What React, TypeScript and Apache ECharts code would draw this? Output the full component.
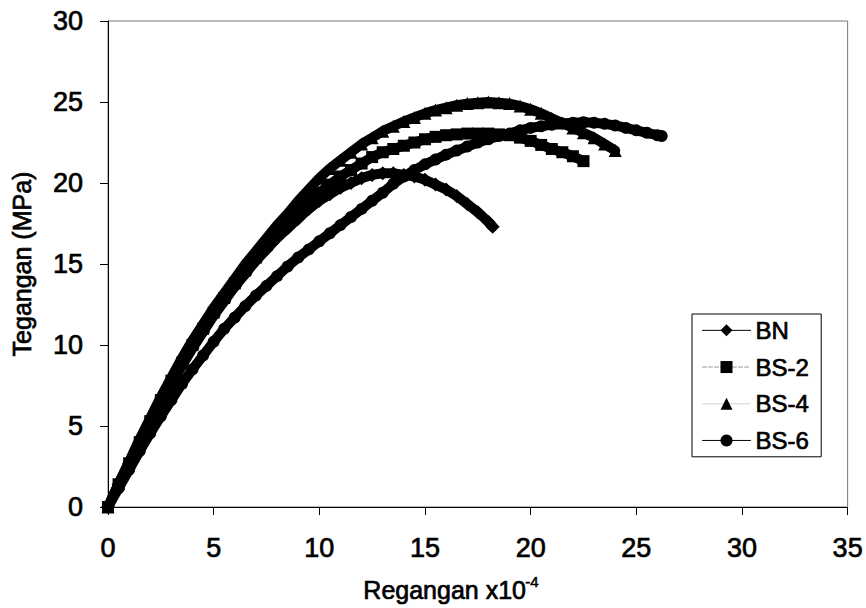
import React, { useEffect, useRef } from "react";
import * as echarts from "echarts";

// Strain (x10^-4) and stress (MPa) for each specimen
const bnStrain = [0, 0.5, 1, 1.5, 2, 2.5, 3, 3.5, 4, 4.5, 5, 5.5, 6, 6.5, 7, 7.5, 8, 8.5, 9, 9.5, 10, 10.5, 11, 11.5, 12, 12.5, 13, 13.5, 14, 14.5, 15, 15.5, 16, 16.5, 17, 17.5, 18, 18.2];
const bnStress = [0, 1.4, 2.7, 4.0, 5.2, 6.4, 7.6, 8.7, 9.8, 10.8, 11.8, 12.7, 13.6, 14.4, 15.2, 15.9, 16.6, 17.2, 17.8, 18.4, 18.9, 19.3, 19.7, 20.0, 20.3, 20.5, 20.6, 20.6, 20.5, 20.4, 20.2, 19.9, 19.6, 19.2, 18.7, 18.2, 17.6, 17.3];

const bs2Strain = [0, 0.5, 1, 1.5, 2, 2.5, 3, 3.5, 4, 4.5, 5, 5.5, 6, 6.5, 7, 7.5, 8, 8.5, 9, 9.5, 10, 10.5, 11, 11.5, 12, 12.5, 13, 13.5, 14, 14.5, 15, 15.5, 16, 16.5, 17, 17.5, 18, 18.5, 19, 19.5, 20, 20.5, 21, 21.5, 22, 22.5];
const bs2Stress = [0, 1.4, 2.7, 4.0, 5.3, 6.6, 7.8, 8.9, 10.0, 11.0, 12.0, 12.9, 13.8, 14.6, 15.4, 16.2, 16.9, 17.6, 18.2, 18.8, 19.4, 19.9, 20.4, 20.8, 21.2, 21.6, 21.9, 22.1, 22.3, 22.5, 22.7, 22.85, 22.95, 23.0, 23.05, 23.05, 23.05, 23.0, 22.95, 22.8, 22.6, 22.35, 22.1, 21.9, 21.65, 21.35];

const bs4Strain = [0, 0.5, 1, 1.5, 2, 2.5, 3, 3.5, 4, 4.5, 5, 5.5, 6, 6.5, 7, 7.5, 8, 8.5, 9, 9.5, 10, 10.5, 11, 11.5, 12, 12.5, 13, 13.5, 14, 14.5, 15, 15.5, 16, 16.5, 17, 17.5, 18, 18.5, 19, 19.5, 20, 20.5, 21, 21.5, 22, 22.5, 23, 23.5, 24];
const bs4Stress = [0, 1.45, 2.8, 4.2, 5.5, 6.8, 8.0, 9.2, 10.3, 11.3, 12.3, 13.2, 14.1, 15.0, 15.8, 16.6, 17.4, 18.1, 18.9, 19.6, 20.3, 20.9, 21.4, 21.9, 22.4, 22.8, 23.2, 23.5, 23.8, 24.05, 24.3, 24.5, 24.65, 24.8, 24.9, 24.95, 25.0, 24.95, 24.9, 24.75, 24.55, 24.3, 24.0, 23.7, 23.4, 23.1, 22.8, 22.4, 22.0];

const bs6Strain = [0, 0.5, 1, 1.5, 2, 2.5, 3, 3.5, 4, 4.5, 5, 5.5, 6, 6.5, 7, 7.5, 8, 8.5, 9, 9.5, 10, 10.5, 11, 11.5, 12, 12.5, 13, 13.5, 14, 14.5, 15, 15.5, 16, 16.5, 17, 17.5, 18, 18.5, 19, 19.5, 20, 20.5, 21, 21.5, 22, 22.5, 23, 23.5, 24, 24.5, 25, 25.5, 26, 26.2];
const bs6Stress = [0, 1.15, 2.3, 3.45, 4.55, 5.6, 6.6, 7.6, 8.5, 9.35, 10.2, 11.0, 11.7, 12.4, 13.05, 13.65, 14.25, 14.85, 15.4, 15.9, 16.4, 16.9, 17.4, 17.9, 18.4, 18.9, 19.4, 19.95, 20.4, 20.8, 21.15, 21.45, 21.75, 22.0, 22.25, 22.5, 22.7, 22.9, 23.05, 23.25, 23.4, 23.5, 23.6, 23.68, 23.72, 23.75, 23.72, 23.65, 23.55, 23.4, 23.25, 23.1, 22.95, 22.9];

const seriesNames = ["BN", "BS-2", "BS-4", "BS-6"];
const xTicks = { min: 0, max: 35, interval: 5 };
const yTicks = { min: 0, max: 30, interval: 5 };
const yTitle = "Tegangan (MPa)";
const xTitle = "Regangan x10";
const xTitleExp = "-4";

const FONT = '"Liberation Sans", Arial, Helvetica, sans-serif';
// a thin outline gives the printed, slightly heavy look of the lettering
const INK = { textBorderColor: "#000", textBorderWidth: 0.7 };

const pairs = (xs: number[], ys: number[]) => xs.map((x, i) => [x, ys[i]]);

export default function App() {
  const ref = useRef<HTMLDivElement>(null);

  useEffect(() => {
    if (!ref.current) return;
    const chart = echarts.init(ref.current, undefined, { renderer: "svg" });

    const specs = [
      { name: seriesNames[0], data: pairs(bnStrain, bnStress), symbol: "diamond", size: 14, legendLine: { color: "#000", type: "solid" } },
      { name: seriesNames[1], data: pairs(bs2Strain, bs2Stress), symbol: "rect", size: 12, legendLine: { color: "#999", type: "dashed" } },
      { name: seriesNames[2], data: pairs(bs4Strain, bs4Stress), symbol: "triangle", size: 13, legendLine: { color: "#ccc", type: "dotted" } },
      { name: seriesNames[3], data: pairs(bs6Strain, bs6Stress), symbol: "circle", size: 12, legendLine: { color: "#000", type: "solid" } },
    ];

    const axisCommon = {
      type: "value" as const,
      axisLine: { show: true, onZero: false, lineStyle: { color: "#000", width: 1 } },
      axisTick: { show: true, inside: false, length: 8, lineStyle: { color: "#000", width: 1 } },
      splitLine: { show: false },
    };

    chart.setOption({
      animation: false,
      backgroundColor: "#fff",
      grid: {
        left: 108,
        right: 18,
        top: 21,
        bottom: 101,
        show: true,
        borderColor: "#777",
        borderWidth: 1,
        containLabel: false,
      },
      xAxis: {
        ...axisCommon,
        ...xTicks,
        axisLabel: { fontSize: 27, fontFamily: FONT, color: "#000", margin: 27, ...INK },
      },
      yAxis: {
        ...axisCommon,
        ...yTicks,
        name: yTitle,
        nameLocation: "middle",
        nameGap: 74,
        nameTextStyle: { fontSize: 25, fontFamily: FONT, color: "#000", ...INK },
        axisLabel: { fontSize: 27, fontFamily: FONT, color: "#000", margin: 25, ...INK },
      },
      legend: {
        orient: "vertical",
        left: 692,
        top: 314,
        itemWidth: 48,
        itemHeight: 15,
        itemGap: 12,
        padding: [4, 12, 4, 10],
        borderColor: "#000",
        borderWidth: 1,
        backgroundColor: "#fff",
        textStyle: { fontSize: 24, fontFamily: FONT, color: "#000", ...INK },
        data: specs.map((s) => ({
          name: s.name,
          lineStyle: { color: s.legendLine.color, type: s.legendLine.type, width: 1 },
          itemStyle: { color: "#000" },
        })),
      },
      graphic: [
        {
          type: "text",
          left: 363,
          top: 577,
          style: { text: xTitle, font: `25px ${FONT}`, fill: "#000", stroke: "#000", lineWidth: 0.7 },
        },
        {
          type: "text",
          left: 525,
          top: 574,
          style: { text: xTitleExp, font: `15px ${FONT}`, fill: "#000", stroke: "#000", lineWidth: 0.5 },
        },
      ],
      series: specs.map((s, i) => ({
        name: s.name,
        type: "line",
        data: s.data,
        symbol: s.symbol,
        symbolSize: s.size,
        showSymbol: true,
        smooth: false,
        z: 2 + i,
        itemStyle: { color: "#000", borderWidth: 0 },
        lineStyle: { color: "#000", width: 10, join: "round", cap: "round" },
        emphasis: { disabled: true },
      })),
    });

    return () => chart.dispose();
  }, []);

  return (
    <div
      ref={ref}
      style={{ position: "absolute", left: 0, top: 0, width: 866, height: 608 }}
    />
  );
}
